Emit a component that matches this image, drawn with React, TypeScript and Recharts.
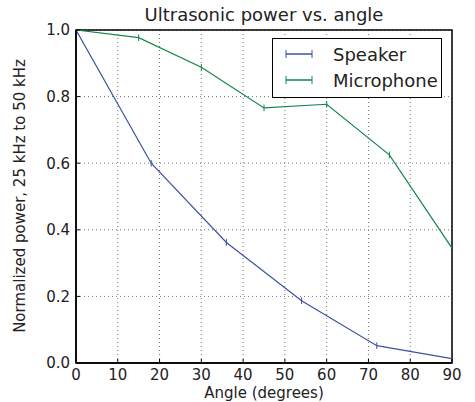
import { LineChart, Line, XAxis, YAxis, CartesianGrid, ErrorBar, ReferenceArea } from 'recharts';

const speakerAngles = [0, 18, 36, 54, 72, 90];
const speakerPower = [1.0, 0.6, 0.362, 0.187, 0.052, 0.013];
const speakerErr = [0, 0.01, 0.01, 0.01, 0.01, 0];

const micAngles = [0, 15, 30, 45, 60, 75, 90];
const micPower = [1.0, 0.977, 0.888, 0.766, 0.777, 0.625, 0.345];
const micErr = [0, 0.01, 0.01, 0.01, 0.01, 0.01, 0];

const xTicks = [0, 10, 20, 30, 40, 50, 60, 70, 80, 90];
const yTicks = [0, 0.2, 0.4, 0.6, 0.8, 1.0];

const BLUE = '#3a53a4';
const GREEN = '#14864a';
const INK = '#222';
const FONT = '"DejaVu Sans", sans-serif';

const speakerData = speakerAngles.map((a, i) => ({ angle: a, power: speakerPower[i], err: speakerErr[i] }));
const micData = micAngles.map((a, i) => ({ angle: a, power: micPower[i], err: micErr[i] }));

const tickStyle = { fontSize: 15, fill: INK, fontFamily: FONT };

function LegendRow({ color, label }: { color: string; label: string }) {
  return (
    <div style={{ display: 'flex', alignItems: 'center', height: 26 }}>
      <svg width={46} height={12} style={{ marginLeft: 12 }}>
        <line x1={1} y1={6} x2={27} y2={6} stroke={color} strokeWidth={1.5} />
        <line x1={1} y1={2} x2={1} y2={10} stroke={color} strokeWidth={1} />
        <line x1={27} y1={2} x2={27} y2={10} stroke={color} strokeWidth={1} />
      </svg>
      <span style={{ fontSize: 18, marginLeft: 2 }}>{label}</span>
    </div>
  );
}

export default function App() {
  return (
    <div style={{ position: 'absolute', left: 0, top: 0, width: 475, height: 402, fontFamily: FONT, color: INK }}>
      <LineChart width={475} height={402} data={speakerData} margin={{ top: 30, right: 23, bottom: 0, left: 0 }}>
        <CartesianGrid stroke="#777" strokeDasharray="1 3" horizontalValues={yTicks} verticalValues={xTicks} />
        <XAxis
          dataKey="angle"
          type="number"
          domain={[0, 90]}
          ticks={xTicks}
          height={39}
          tick={tickStyle}
          tickSize={-4}
          tickMargin={10}
          axisLine={{ stroke: '#000', strokeWidth: 1.5 }}
          tickLine={{ stroke: '#000' }}
          allowDataOverflow
        />
        <XAxis
          xAxisId="top"
          orientation="top"
          mirror
          type="number"
          domain={[0, 90]}
          ticks={xTicks}
          tick={false}
          tickSize={4}
          axisLine={false}
          tickLine={{ stroke: '#000' }}
        />
        <YAxis
          type="number"
          domain={[0, 1]}
          ticks={yTicks}
          width={76}
          tick={tickStyle}
          tickFormatter={(v: number) => v.toFixed(1)}
          tickSize={-4}
          tickMargin={10}
          axisLine={{ stroke: '#000', strokeWidth: 1.5 }}
          tickLine={{ stroke: '#000' }}
          allowDataOverflow
        />
        <YAxis
          yAxisId="right"
          orientation="right"
          mirror
          type="number"
          domain={[0, 1]}
          ticks={yTicks}
          tick={false}
          tickSize={4}
          axisLine={false}
          tickLine={{ stroke: '#000' }}
        />
        <ReferenceArea x1={0} x2={90} y1={0} y2={1} fill="none" stroke="#000" strokeWidth={1.5} ifOverflow="visible" />
        <Line
          data={speakerData}
          dataKey="power"
          name="Speaker"
          type="linear"
          stroke={BLUE}
          strokeWidth={1.2}
          dot={false}
          activeDot={false}
          isAnimationActive={false}
        >
          <ErrorBar dataKey="err" direction="y" width={0} stroke={BLUE} strokeWidth={1} />
        </Line>
        <Line
          data={micData}
          dataKey="power"
          name="Microphone"
          type="linear"
          stroke={GREEN}
          strokeWidth={1.2}
          dot={false}
          activeDot={false}
          isAnimationActive={false}
        >
          <ErrorBar dataKey="err" direction="y" width={0} stroke={GREEN} strokeWidth={1} />
        </Line>
      </LineChart>

      <div style={{ position: 'absolute', left: 76, width: 376, top: 5, textAlign: 'center', fontSize: 18, lineHeight: '20px' }}>
        Ultrasonic power vs. angle
      </div>
      <div style={{ position: 'absolute', left: 76, width: 376, top: 386, textAlign: 'center', fontSize: 15, lineHeight: '15px' }}>
        Angle (degrees)
      </div>
      <div
        style={{
          position: 'absolute',
          left: 20,
          top: 196,
          width: 340,
          marginLeft: -170,
          marginTop: -9,
          textAlign: 'center',
          fontSize: 15,
          lineHeight: '18px',
          transform: 'rotate(-90deg)',
          whiteSpace: 'nowrap',
        }}
      >
        Normalized power, 25 kHz to 50 kHz
      </div>

      <div
        style={{
          position: 'absolute',
          left: 272,
          top: 38,
          width: 168,
          height: 56,
          border: '1px solid #000',
          background: '#fff',
          boxSizing: 'content-box',
          paddingTop: 2,
        }}
      >
        <LegendRow color={BLUE} label="Speaker" />
        <LegendRow color={GREEN} label="Microphone" />
      </div>
    </div>
  );
}
